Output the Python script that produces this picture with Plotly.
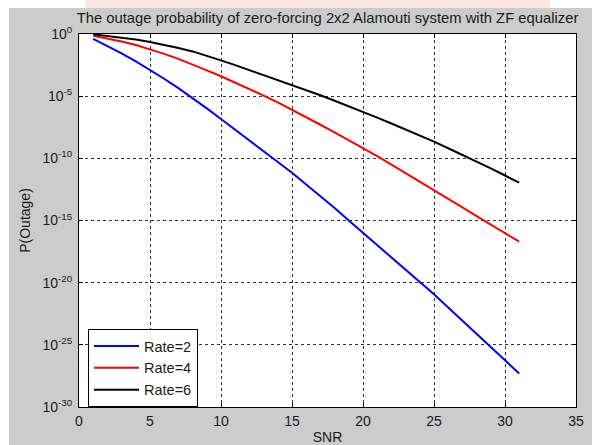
import plotly.graph_objects as go

W, H = 592, 445
L, R, T, B = 79, 576, 34, 407  # plot frame pixels

snr = list(range(1, 32))
# log10 of P(Outage)
log_rate2 = [-0.40, -0.97, -1.55, -2.20, -2.87, -3.60, -4.35, -5.15, -5.98, -6.84,
             -7.72, -8.58, -9.44, -10.30, -11.16, -12.10, -13.05, -14.00, -15.00, -15.98,
             -16.96, -17.94, -18.93, -19.93, -20.94, -21.99, -23.04, -24.10, -25.15, -26.20,
             -27.30]
log_rate4 = [-0.14, -0.36, -0.60, -0.88, -1.21, -1.60, -2.00, -2.44, -2.92, -3.40,
             -3.90, -4.40, -4.95, -5.50, -6.09, -6.67, -7.30, -7.92, -8.55, -9.17,
             -9.83, -10.50, -11.18, -11.86, -12.55, -13.25, -13.95, -14.65, -15.35, -16.05,
             -16.70]
log_rate6 = [-0.03, -0.15, -0.29, -0.45, -0.64, -0.87, -1.12, -1.40, -1.74, -2.12,
             -2.50, -2.90, -3.30, -3.68, -4.08, -4.50, -4.93, -5.37, -5.81, -6.27,
             -6.73, -7.20, -7.68, -8.17, -8.66, -9.19, -9.72, -10.26, -10.80, -11.38,
             -11.96]
series_names = ["Rate=2", "Rate=4", "Rate=6"]
series_colors = ["#0000ff", "#ff0000", "#000000"]

x_ticks = [0, 5, 10, 15, 20, 25, 30, 35]
y_exps = [0, -5, -10, -15, -20, -25, -30]
y_tickvals = [10.0 ** e for e in y_exps]
y_ticktext = ["10<sup>%d</sup>" % e for e in y_exps]

FONT = "Arial, Liberation Sans, sans-serif"
TXT = "#1a1a1a"

fig = go.Figure()
for name, col, logs in zip(series_names, series_colors, [log_rate2, log_rate4, log_rate6]):
    fig.add_trace(go.Scatter(x=snr, y=[10.0 ** v for v in logs], mode="lines", name=name,
                             line=dict(color=col, width=2)))

def px(xp):
    return (xp - L) / (R - L)

def py(yp):
    return (B - yp) / (B - T)

shapes = [
    dict(type="rect", xref="paper", yref="paper", x0=px(0), x1=px(W), y0=py(8), y1=py(0),
         fillcolor="white", line=dict(width=0), layer="below"),
    dict(type="rect", xref="paper", yref="paper", x0=px(0), x1=px(9), y0=py(H), y1=py(0),
         fillcolor="white", line=dict(width=0), layer="below"),
    dict(type="rect", xref="paper", yref="paper", x0=px(85), x1=px(550), y0=py(8), y1=py(0),
         fillcolor="#fbe4e4", line=dict(width=0), layer="below"),
]

axis_common = dict(showline=True, linecolor="black", linewidth=1, mirror="ticks",
                   ticks="inside", ticklen=4, tickcolor="black",
                   showgrid=True, gridcolor="#333333", gridwidth=1, griddash="3px,3px",
                   zeroline=False, tickfont=dict(family=FONT, size=14, color=TXT))

fig.update_layout(
    width=W, height=H,
    margin=dict(l=L, r=W - R, t=T, b=H - B, autoexpand=False),
    paper_bgcolor="#cccccc", plot_bgcolor="white",
    font=dict(family=FONT, size=14, color=TXT),
    title=dict(text="The outage probability of zero-forcing 2x2 Alamouti system with ZF equalizer",
               x=0.5 * (L + R) / W, xanchor="center", y=1 - 18 / H, yanchor="middle",
               yref="container", font=dict(family=FONT, size=14.8, color=TXT)),
    xaxis=dict(range=[0, 35], tickvals=x_ticks, ticklabelstandoff=1,
               title=dict(text="SNR", standoff=6, font=dict(family=FONT, size=14, color=TXT)),
               **axis_common),
    yaxis=dict(type="log", range=[-30, 0], tickvals=y_tickvals, ticktext=y_ticktext,
               ticklabelstandoff=3,
               title=dict(text="P(Outage)", standoff=8, font=dict(family=FONT, size=14, color=TXT)),
               **axis_common),
    legend=dict(x=px(88), y=py(407), xanchor="left", yanchor="bottom",
                bgcolor="white", bordercolor="black", borderwidth=1,
                font=dict(family=FONT, size=14.5, color=TXT),
                itemwidth=45, tracegroupgap=0),
    shapes=shapes,
    showlegend=True,
)

fig.write_html("out.html", config={"displayModeBar": False},
               post_script="document.body.style.margin='0';document.body.style.overflow='hidden';")
